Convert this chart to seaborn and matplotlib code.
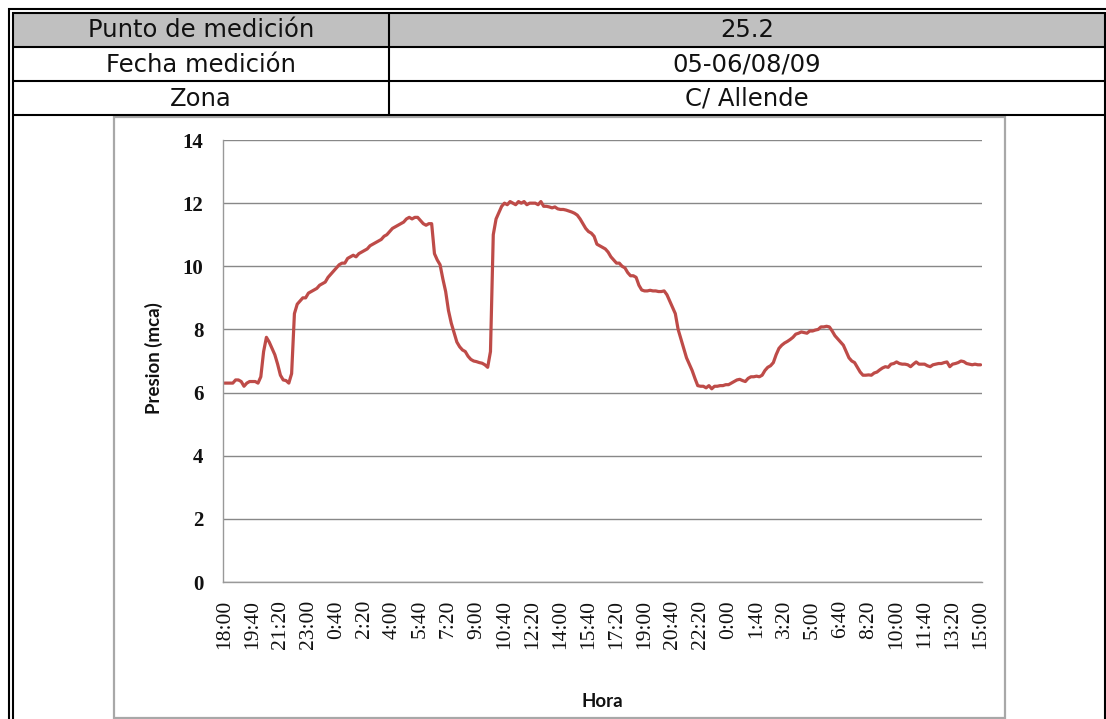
import numpy as np
import matplotlib
matplotlib.use("Agg")
import matplotlib.pyplot as plt
from matplotlib.lines import Line2D
from matplotlib.patches import Rectangle
import seaborn as sns

# Pressure readings every 10 minutes, 18:00 (day 1) to 15:00 (day 3)
presion = [
    6.3, 6.3, 6.3, 6.3, 6.4, 6.4, 6.35, 6.2, 6.3, 6.35,
    6.35, 6.35, 6.3, 6.5, 7.3, 7.75, 7.6, 7.4, 7.2, 6.9,
    6.55, 6.4, 6.38, 6.3, 6.6, 8.5, 8.8, 8.9, 9.0, 9.0,
    9.15, 9.2, 9.25, 9.3, 9.4, 9.45, 9.5, 9.65, 9.75, 9.85,
    9.95, 10.05, 10.1, 10.1, 10.25, 10.3, 10.35, 10.3, 10.4, 10.45,
    10.5, 10.55, 10.65, 10.7, 10.75, 10.8, 10.85, 10.95, 11.0, 11.1,
    11.2, 11.25, 11.3, 11.35, 11.4, 11.5, 11.55, 11.5, 11.55, 11.55,
    11.45, 11.35, 11.3, 11.35, 11.35, 10.4, 10.2, 10.05, 9.6, 9.2,
    8.6, 8.2, 7.9, 7.6, 7.45, 7.35, 7.3, 7.15, 7.05, 7.0,
    6.98, 6.95, 6.93, 6.88, 6.8, 7.3, 11.0, 11.5, 11.7, 11.9,
    12.0, 11.95, 12.05, 12.0, 11.95, 12.05, 12.0, 12.05, 11.95, 12.0,
    12.0, 12.0, 11.95, 12.05, 11.9, 11.9, 11.88, 11.85, 11.88, 11.82,
    11.8, 11.8, 11.78, 11.75, 11.72, 11.68, 11.62, 11.5, 11.35, 11.2,
    11.1, 11.05, 10.95, 10.7, 10.65, 10.6, 10.55, 10.45, 10.3, 10.2,
    10.1, 10.1, 10.0, 9.95, 9.8, 9.7, 9.7, 9.65, 9.4, 9.25,
    9.22, 9.22, 9.24, 9.22, 9.22, 9.2, 9.2, 9.22, 9.1, 8.9,
    8.7, 8.5, 8.0, 7.7, 7.4, 7.1, 6.9, 6.7, 6.45, 6.22,
    6.2, 6.2, 6.15, 6.22, 6.12, 6.2, 6.2, 6.22, 6.22, 6.25,
    6.25, 6.3, 6.35, 6.4, 6.42, 6.38, 6.35, 6.45, 6.5, 6.5,
    6.52, 6.5, 6.55, 6.7, 6.8, 6.85, 6.95, 7.2, 7.4, 7.5,
    7.57, 7.62, 7.68, 7.75, 7.85, 7.88, 7.92, 7.9, 7.88, 7.95,
    7.95, 7.98, 8.0, 8.08, 8.08, 8.1, 8.08, 7.95, 7.8, 7.7,
    7.6, 7.5, 7.3, 7.1, 7.0, 6.95, 6.8, 6.65, 6.55, 6.55,
    6.56, 6.55, 6.62, 6.65, 6.72, 6.78, 6.82, 6.8, 6.9, 6.92,
    6.97, 6.92, 6.9, 6.9, 6.88, 6.82, 6.9, 6.97, 6.9, 6.9,
    6.9, 6.85, 6.82, 6.88, 6.9, 6.92, 6.92, 6.95, 6.97, 6.82,
    6.9, 6.92, 6.95, 7.0, 6.98, 6.92, 6.9, 6.88, 6.9, 6.88,
    6.88,
]

# Labels shown every 10 readings (100 minutes)
hora_labels = [
    "18:00", "19:40", "21:20", "23:00", "0:40", "2:20", "4:00", "5:40",
    "7:20", "9:00", "10:40", "12:20", "14:00", "15:40", "17:20", "19:00",
    "20:40", "22:20", "0:00", "1:40", "3:20", "5:00", "6:40", "8:20",
    "10:00", "11:40", "13:20", "15:00",
]
label_step = 10

y_ticks = [0, 2, 4, 6, 8, 10, 12, 14]

campos = ["Punto de medición", "Fecha medición", "Zona"]
valores = ["25.2", "05-06/08/09", "C/ Allende"]

W, H = 1106, 719
sns.set_theme(style="white")
fig = plt.figure(figsize=(W / 100, H / 100), dpi=100)
fig.patch.set_facecolor("white")


def fx(px):
    return px / W


def fy(py):
    return 1 - py / H


def hline(y, x0, x1, lw=1.5, color="black"):
    fig.add_artist(Line2D([fx(x0), fx(x1)], [fy(y), fy(y)], transform=fig.transFigure,
                          color=color, lw=lw, solid_capstyle="butt", zorder=2))


def vline(x, y0, y1, lw=1.5, color="black"):
    fig.add_artist(Line2D([fx(x), fx(x)], [fy(y0), fy(y1)], transform=fig.transFigure,
                          color=color, lw=lw, solid_capstyle="butt", zorder=2))


# --- header table ---
fig.add_artist(Rectangle((fx(14), fy(46)), fx(1104) - fx(14), (46 - 13) / H,
                         transform=fig.transFigure, facecolor="#C0C0C0",
                         edgecolor="none", zorder=-2))
hline(9, 8, W)
hline(12.5, 12, 1105)
vline(9, 8, H)
vline(13, 12, H)
vline(1105, 12, H)
for y in (47, 81, 115):
    hline(y, 13, 1105)
vline(389, 12, 115)

row_centers = [30, 64.5, 98.5]
for campo, valor, yc in zip(campos, valores, row_centers):
    fig.text(fx(201), fy(yc), campo, ha="center", va="center",
             fontsize=17.5, color="#111111", family="DejaVu Sans")
    fig.text(fx(747), fy(yc), valor, ha="center", va="center",
             fontsize=17.5, color="#111111", family="DejaVu Sans")

# --- chart frame (behind the axes) ---
fig.add_artist(Rectangle((fx(114), fy(718)), fx(1005) - fx(114), (718 - 117) / H,
                         transform=fig.transFigure, facecolor="white",
                         edgecolor="#A8A8A8", lw=1.6, zorder=-1))

ax = fig.add_axes([fx(223), fy(582), fx(982) - fx(223), (582 - 140) / H])
ax.set_zorder(1)
ax.patch.set_alpha(0)
idx = np.arange(len(presion))
sns.lineplot(x=idx, y=presion, ax=ax, color="#BE4B48", lw=2.3)

ax.set_xlim(-0.5, len(presion) - 0.5)
ax.set_ylim(y_ticks[0], y_ticks[-1])
ax.set_yticks(y_ticks)
ax.set_yticklabels([str(v) for v in y_ticks], family="Liberation Serif",
                   fontweight="bold", fontsize=15, color="#111111")
ax.set_xticks(np.arange(0, len(presion), label_step))
ax.set_xticklabels(hora_labels, rotation=90, family="Liberation Serif",
                   fontsize=15.5, color="#111111")
ax.tick_params(axis="both", length=0)
ax.tick_params(axis="y", pad=14)
ax.tick_params(axis="x", pad=13)
ax.yaxis.grid(True, color="#888888", lw=1.0)
ax.xaxis.grid(False)
for side in ("top", "right"):
    ax.spines[side].set_visible(False)
for side in ("left", "bottom"):
    ax.spines[side].set_color("#999999")
    ax.spines[side].set_linewidth(1.0)
ax.set_axisbelow(True)

ax.set_ylabel("Presion (mca)", family="Lato", fontweight="bold", fontsize=13.5,
              color="#111111")
ax.yaxis.set_label_coords((163 - 223) / (982 - 223), (582 - 358) / (582 - 140))
ax.set_xlabel("Hora", family="Lato", fontweight="bold", fontsize=13.5, color="#111111")
ax.xaxis.set_label_coords(0.5, -(693 - 582) / (582 - 140))

fig.savefig("out.png", dpi=100, facecolor="white")
